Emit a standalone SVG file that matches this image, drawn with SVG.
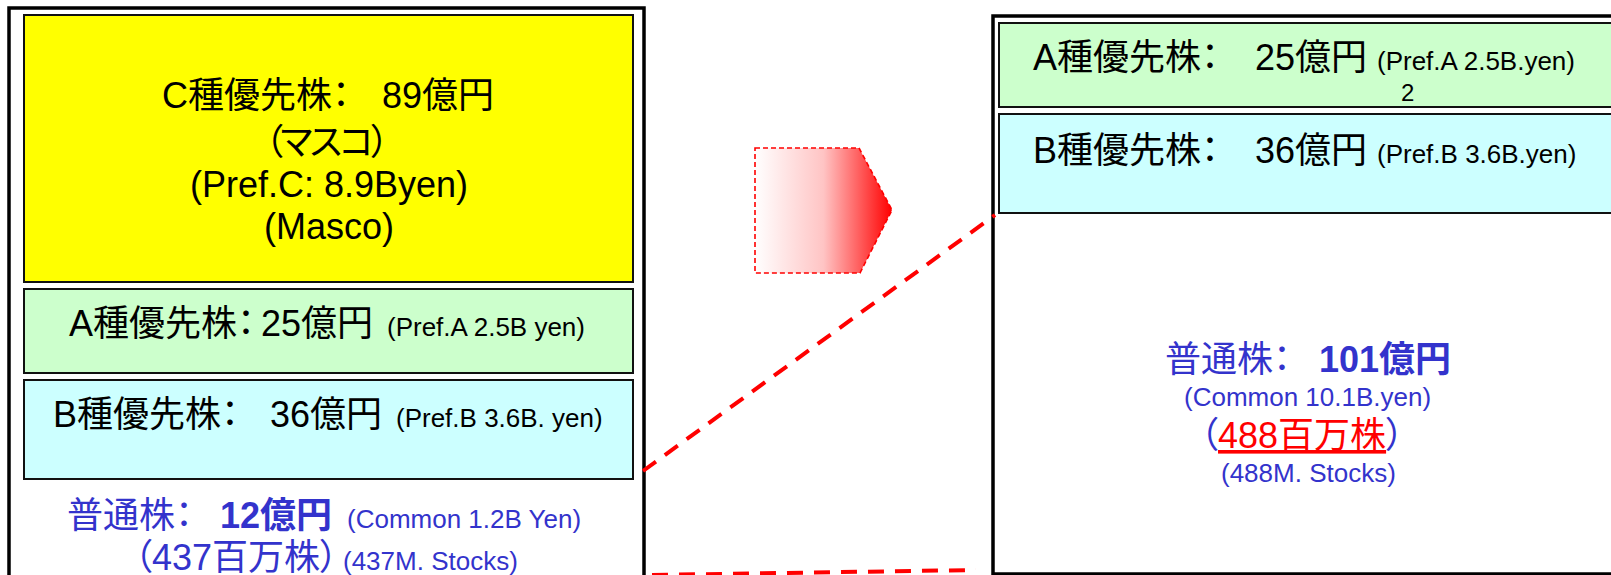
<svg xmlns="http://www.w3.org/2000/svg" width="1611" height="575" viewBox="0 0 1611 575">
  <style>
    .t { font-family: "Liberation Sans", "Noto Sans CJK JP", sans-serif; fill: #000; }
    .big { font-size: 36px; }
    .small { font-size: 26px; }
    .blue { fill: #3333cc; }
    .red { fill: #ff0000; }
    .bold { font-weight: bold; }
    .p { font-feature-settings: "palt" 1; }
    .outer { fill: none; stroke: #000; stroke-width: 3.5; }
    .box { stroke: #111; stroke-width: 2; }
    .yellow { fill: #ffff00; }
    .green { fill: #ccffcc; }
    .cyan { fill: #ccffff; }
    .link { fill: none; stroke: #ff0000; stroke-width: 4; stroke-dasharray: 16 11; }
  </style>
  <defs>
    <linearGradient id="arrowGrad" x1="0" y1="0" x2="1" y2="0">
      <stop offset="0" stop-color="#ffffff"/>
      <stop offset="0.5" stop-color="#ffc4c4"/>
      <stop offset="1" stop-color="#ff0000"/>
    </linearGradient>
  </defs>
  <rect width="1611" height="575" fill="#ffffff"/>

  <!-- Left capital structure -->
  <g id="left-stack">
    <rect class="outer" x="9" y="8" width="635" height="620"/>
  </g>
  <g id="node-c-left">
    <rect class="box yellow" x="24" y="15" width="609" height="267"/>
    <text class="t big p"><tspan x="162" y="108">C種優先株：</tspan><tspan x="382" y="108">89億円</tspan></text>
    <text class="t big p" x="327" y="155" text-anchor="middle" textLength="124" lengthAdjust="spacing">（マスコ）</text>
    <text class="t big" x="329" y="197" text-anchor="middle">(Pref.C: 8.9Byen)</text>
    <text class="t big" x="329" y="239" text-anchor="middle">(Masco)</text>
  </g>
  <g id="node-a-left">
    <rect class="box green" x="24" y="289" width="609" height="84"/>
    <text class="t big p"><tspan x="69" y="336">A種優先株：</tspan><tspan x="261" y="336">25億円</tspan><tspan class="small" x="387" y="336">(Pref.A 2.5B yen)</tspan></text>
  </g>
  <g id="node-b-left">
    <rect class="box cyan" x="24" y="380" width="609" height="99"/>
    <text class="t big p"><tspan x="53" y="427">B種優先株：</tspan><tspan x="270" y="427">36億円</tspan><tspan class="small" x="396" y="427">(Pref.B 3.6B. yen)</tspan></text>
  </g>
  <g id="node-common-left">
    <text class="t big blue p"><tspan x="67" y="528">普通株：</tspan><tspan class="bold" x="220" y="528">12億円</tspan><tspan class="small" x="347" y="528">(Common 1.2B Yen)</tspan></text>
    <text class="t big blue p"><tspan x="134" y="570">（437百万株）</tspan><tspan class="small" x="343" y="570">(437M. Stocks)</tspan></text>
  </g>

  <!-- Transition arrow -->
  <g id="arrow">
    <polygon points="755,148 859,148 892,210 860,273 755,273" fill="url(#arrowGrad)" stroke="#ff0000" stroke-width="1.6" stroke-dasharray="5 3"/>
  </g>

  <!-- Right capital structure -->
  <g id="right-stack">
    <rect class="outer" x="993" y="16" width="640" height="558"/>
  </g>
  <g id="node-a-right">
    <rect class="box green" x="999" y="23" width="630" height="84"/>
    <text class="t big p"><tspan x="1033" y="70">A種優先株：</tspan><tspan x="1255" y="70">25億円</tspan><tspan class="small" x="1377" y="70">(Pref.A 2.5B.yen)</tspan></text>
    <text class="t" font-size="24" x="1401" y="101">2</text>
  </g>
  <g id="node-b-right">
    <rect class="box cyan" x="999" y="114" width="630" height="99"/>
    <text class="t big p"><tspan x="1033" y="163">B種優先株：</tspan><tspan x="1255" y="163">36億円</tspan><tspan class="small" x="1377" y="163">(Pref.B 3.6B.yen)</tspan></text>
  </g>
  <g id="node-common-right">
    <text class="t big blue p"><tspan x="1165" y="372">普通株：</tspan><tspan class="bold" x="1319" y="372">101億円</tspan></text>
    <text class="t small blue" x="1184" y="406">(Common 10.1B.yen)</text>
    <text class="t big blue p" x="1200" y="448">（<tspan class="red" style="text-decoration: underline;">488百万株</tspan>）</text>
    <text class="t small blue" x="1221" y="482">(488M. Stocks)</text>
  </g>

  <!-- Connectors -->
  <g id="connectors">
    <line class="link" x1="643" y1="471" x2="995" y2="215"/>
    <line class="link" x1="652" y1="575" x2="976" y2="570"/>
  </g>
</svg>
